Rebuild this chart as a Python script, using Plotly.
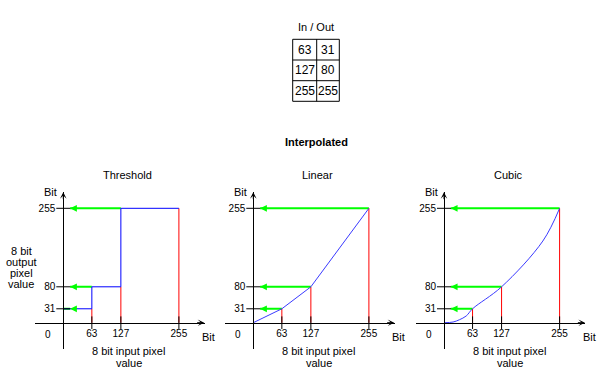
import plotly.graph_objects as go

# ---------------- data ----------------
table_in = [63, 127, 255]
table_out = [31, 80, 255]
table_title = "In / Out"
section_title = "Interpolated"

panel_titles = ["Threshold", "Linear", "Cubic"]
x_ticks = [63, 127, 255]
y_ticks = [31, 80, 255]

threshold_x = [0, 63, 127, 255]
threshold_y = [31, 80, 255, 255]
linear_x = [0, 63, 127, 255]
linear_y = [0, 31, 80, 255]
cubic_x = [0, 20, 34, 49, 63, 127, 218, 255]
cubic_y = [0, 1.5, 6.6, 15, 31, 80, 182, 255]

# x at which each output level is first reached (start of the green arrow)
green_from = [[0, 63, 127], [63, 127, 255], [63, 127, 255]]

y_label_lines = ["8 bit", "output", "pixel", "value"]
x_label_lines = ["8 bit input pixel", "value"]
unit_label = "Bit"
origin_label = "0"

# ---------------- layout geometry ----------------
W, H = 600, 376
FONT = "Liberation Sans, Arial, sans-serif"
origins = [63.3, 253.3, 444.0]
oy = 322.7
sx, sy = 0.4533, 0.4486
xr = [-62, 312]
yr = [-58, 292]
arrow_tip = 15

GREEN = "#00ff00"
RED = "#ff0000"
BLUE = "#0000ff"
BLUE2 = "#3a3aff"

curves = [(threshold_x, threshold_y, "hv", BLUE), (linear_x, linear_y, "linear", BLUE2),
          (cubic_x, cubic_y, "spline", BLUE2)]

fig = go.Figure()
annotations = []
shapes = []


def P(x, y):
    return x / W, 1 - y / H


def text(x, y, s, size=11, bold=False, xanchor="center"):
    px, py = P(x, y)
    annotations.append(dict(xref="paper", yref="paper", x=px, y=py, text=("<b>%s</b>" % s) if bold else s,
                            showarrow=False, xanchor=xanchor, yanchor="middle", borderpad=0,
                            font=dict(family=FONT, size=size, color="black")))


ydom = [1 - (oy - yr[0] * sy) / H, 1 - (oy - yr[1] * sy) / H]
for i, ox in enumerate(origins):
    n = "" if i == 0 else str(i + 1)
    xa, ya = "x" + n, "y" + n
    xdom = [(ox + xr[0] * sx) / W, (ox + xr[1] * sx) / W]
    xpos = xdom[0] + (0 - xr[0]) / (xr[1] - xr[0]) * (xdom[1] - xdom[0])
    ypos = ydom[0] + (0 - yr[0]) / (yr[1] - yr[0]) * (ydom[1] - ydom[0])
    fig.layout["xaxis" + n] = dict(domain=xdom, range=xr, anchor="free", position=ypos,
                                   showgrid=False, zeroline=False, showline=True,
                                   linecolor="black", linewidth=1, ticks="",
                                   tickvals=x_ticks, ticktext=[str(v) for v in x_ticks],
                                   ticklabelstandoff=1,
                                   tickfont=dict(family=FONT, size=10, color="black"),
                                   fixedrange=True)
    fig.layout["yaxis" + n] = dict(domain=ydom, range=yr, anchor="free", position=xpos,
                                   showgrid=False, zeroline=False, showline=True,
                                   linecolor="black", linewidth=1, ticks="",
                                   tickvals=y_ticks, ticktext=[str(v) for v in y_ticks],
                                   ticklabelstandoff=6,
                                   tickfont=dict(family=FONT, size=10, color="black"),
                                   fixedrange=True)

    # green guide lines
    gx, gy = [], []
    for gf, lv in zip(green_from[i], y_ticks):
        gx += [gf, arrow_tip, None]
        gy += [lv, lv, None]
    fig.add_trace(go.Scatter(x=gx, y=gy, mode="lines", line=dict(color=GREEN, width=2),
                             xaxis=xa, yaxis=ya, hoverinfo="skip"))
    # red drop lines
    rx, ry = [], []
    for xv, yv in zip(x_ticks, y_ticks):
        rx += [xv, xv, None]
        ry += [0, yv, None]
    fig.add_trace(go.Scatter(x=rx, y=ry, mode="lines", line=dict(color=RED, width=1),
                             xaxis=xa, yaxis=ya, hoverinfo="skip"))
    # curve
    cx, cy, shape, col = curves[i]
    fig.add_trace(go.Scatter(x=cx, y=cy, mode="lines", line=dict(color=col, width=1, shape=shape),
                             xaxis=xa, yaxis=ya, hoverinfo="skip"))
    # tick marks crossing the axes
    fig.add_trace(go.Scatter(x=x_ticks, y=[0] * len(x_ticks), mode="markers",
                             marker=dict(symbol="line-ns", size=9, line=dict(color="black", width=1)),
                             xaxis=xa, yaxis=ya, hoverinfo="skip"))
    fig.add_trace(go.Scatter(x=[0] * len(y_ticks), y=y_ticks, mode="markers",
                             marker=dict(symbol="line-ew", size=10, line=dict(color="black", width=1)),
                             xaxis=xa, yaxis=ya, hoverinfo="skip"))

    # green arrowheads
    for lv in y_ticks:
        annotations.append(dict(xref=xa, yref=ya, axref=xa, ayref=ya, x=arrow_tip, y=lv,
                                ax=arrow_tip + 12, ay=lv, text="", showarrow=True,
                                arrowhead=2, arrowsize=0.9, arrowwidth=1.5, arrowcolor=GREEN))
    # axis arrowheads
    annotations.append(dict(xref=xa, yref=ya, axref=xa, ayref=ya, x=xr[1] - 1, y=0,
                            ax=xr[1] - 20, ay=0, text="", showarrow=True,
                            arrowhead=3, arrowsize=1.1, arrowwidth=1, arrowcolor="black"))
    annotations.append(dict(xref=xa, yref=ya, axref=xa, ayref=ya, x=0, y=yr[1] - 1,
                            ax=0, ay=yr[1] - 20, text="", showarrow=True,
                            arrowhead=3, arrowsize=1.1, arrowwidth=1, arrowcolor="black"))

    # texts
    text(ox + 64, 175, panel_titles[i])
    text(ox - 12.5, 192, unit_label)
    text(ox + 137.5, 336.5, unit_label, xanchor="left")
    text(ox - 15, 334.3, origin_label, size=10)
    for k, s in enumerate(x_label_lines):
        text(ox + 65.5, 351 + 11.5 * k, s)

# left y-axis label
for k, s in enumerate(y_label_lines):
    text(21, 250.5 + 11 * k, s)

text(316.7, 141.7, section_title, bold=True)

# lookup table
text(315.5, 26.7, table_title)
tx0, tx1, tx2 = 292.7, 316.7, 339.3
ty = [39.3, 60.0, 80.7, 101.3]
shapes.append(dict(type="rect", xref="paper", yref="paper", x0=tx0 / W, x1=tx2 / W,
                   y0=1 - ty[0] / H, y1=1 - ty[-1] / H, line=dict(color="black", width=1)))
shapes.append(dict(type="line", xref="paper", yref="paper", x0=tx1 / W, x1=tx1 / W,
                   y0=1 - ty[0] / H, y1=1 - ty[-1] / H, line=dict(color="black", width=1)))
for yy in ty[1:-1]:
    shapes.append(dict(type="line", xref="paper", yref="paper", x0=tx0 / W, x1=tx2 / W,
                       y0=1 - yy / H, y1=1 - yy / H, line=dict(color="black", width=1)))
for r, (vi, vo) in enumerate(zip(table_in, table_out)):
    cy_ = (ty[r] + ty[r + 1]) / 2
    text((tx0 + tx1) / 2, cy_, str(vi), size=12)
    text((tx1 + tx2) / 2, cy_, str(vo), size=12)

fig.update_layout(width=W, height=H, margin=dict(l=0, r=0, t=0, b=0),
                  paper_bgcolor="white", plot_bgcolor="white", showlegend=False,
                  annotations=annotations, shapes=shapes,
                  font=dict(family=FONT, size=11, color="black"))

fig.write_html("out.html", config={"displayModeBar": False, "staticPlot": True},
               post_script="document.body.style.margin='0px';document.body.style.overflow='hidden';")
